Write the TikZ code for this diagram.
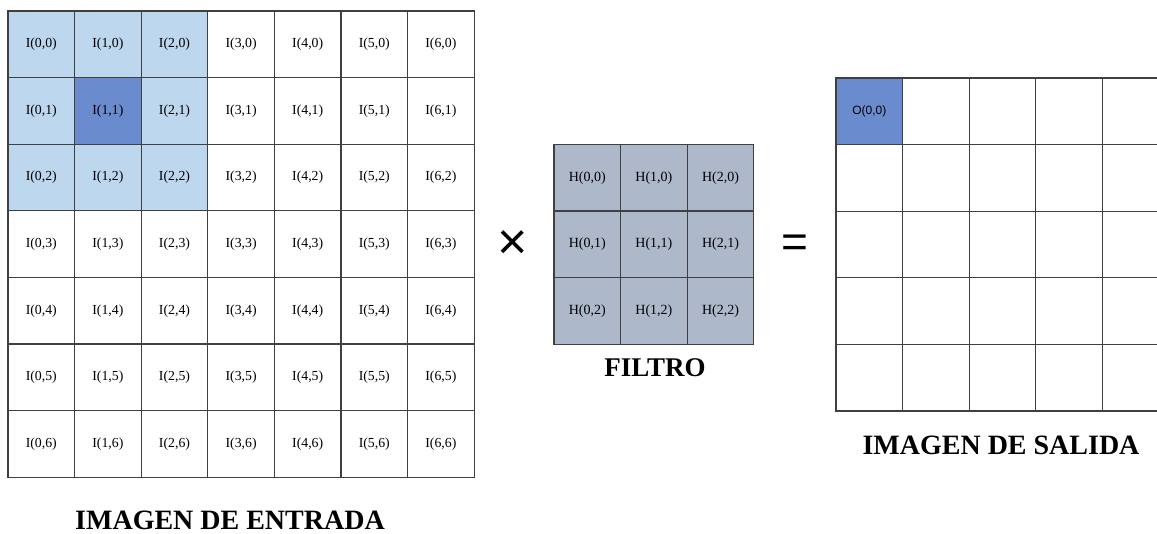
\documentclass[tikz,border=0pt]{standalone}
\usepackage{fontspec}
\setmainfont{Liberation Serif}
\newfontfamily\sansf{Liberation Sans}
\definecolor{lightcell}{HTML}{BDD7EE}
\definecolor{darkcell}{HTML}{6A8BCE}
\definecolor{filtcell}{HTML}{ADB9CA}
\definecolor{gridline}{HTML}{404040}
\begin{document}
\begin{tikzpicture}[x=1pt,y=-1pt,
  cellbase/.style={draw=gridline,line width=1.2pt,minimum width=66.6pt,minimum height=66.6pt,inner sep=0pt,anchor=center},
  icell/.style={cellbase,font=\fontsize{13.8}{15}\selectfont},
  hcell/.style={cellbase,fill=filtcell,font=\fontsize{14}{15}\selectfont},
  ocell/.style={cellbase,font=\sansf\fontsize{12}{14}\selectfont},
  caption/.style={font=\bfseries\fontsize{28}{32}\selectfont,inner sep=0pt,anchor=base},
  c-0-0/.style={fill=lightcell}, c-1-0/.style={fill=lightcell}, c-2-0/.style={fill=lightcell},
  c-0-1/.style={fill=lightcell}, c-1-1/.style={fill=darkcell},  c-2-1/.style={fill=lightcell},
  c-0-2/.style={fill=lightcell}, c-1-2/.style={fill=lightcell}, c-2-2/.style={fill=lightcell},
  o-0-0/.style={fill=darkcell}
]
\useasboundingbox (0,0) rectangle (1157,534);
\fill[white] (0,0) rectangle (1157,534);
% input image
\foreach \i in {0,...,6}{
  \foreach \j in {0,...,6}{
    \node[icell,c-\i-\j/.try] (I-\i-\j) at ({8+66.6*\i+33.3},{11+66.6*\j+33.3}) {I(\i,\j)};
  }
}
% filter
\foreach \i in {0,...,2}{
  \foreach \j in {0,...,2}{
    \node[hcell] (H-\i-\j) at ({554+66.6*\i+33.3},{144.5+66.6*\j+33.3}) {H(\i,\j)};
  }
}
% output image (right column cut by the picture edge)
\begin{scope}
\clip (0,0) rectangle (1157,534);
\foreach \i in {0,...,4}{
  \foreach \j in {0,...,4}{
    \node[ocell,o-\i-\j/.try] (O-\i-\j) at ({836+66.6*\i+33.3},{78+66.6*\j+33.3}) {};
  }
}
\end{scope}
\node[font=\sansf\fontsize{12}{14}\selectfont] (otext) at (O-0-0) {O(0,0)};
% operators
\node[font=\sansf\fontsize{52}{56}\selectfont,inner sep=0pt] (times) at (513,245) {×};
\node[font=\sansf\fontsize{46}{48}\selectfont,inner sep=0pt] (equals) at (794.5,246.5) {=};
% captions
\node[caption] (capin) at (230,529.5) {IMAGEN DE ENTRADA};
\node[caption,font=\bfseries\fontsize{27}{30}\selectfont] (capf) at (655,377) {FILTRO};
\node[caption] (capout) at (1001,455) {IMAGEN DE SALIDA};
\end{tikzpicture}
\end{document}
